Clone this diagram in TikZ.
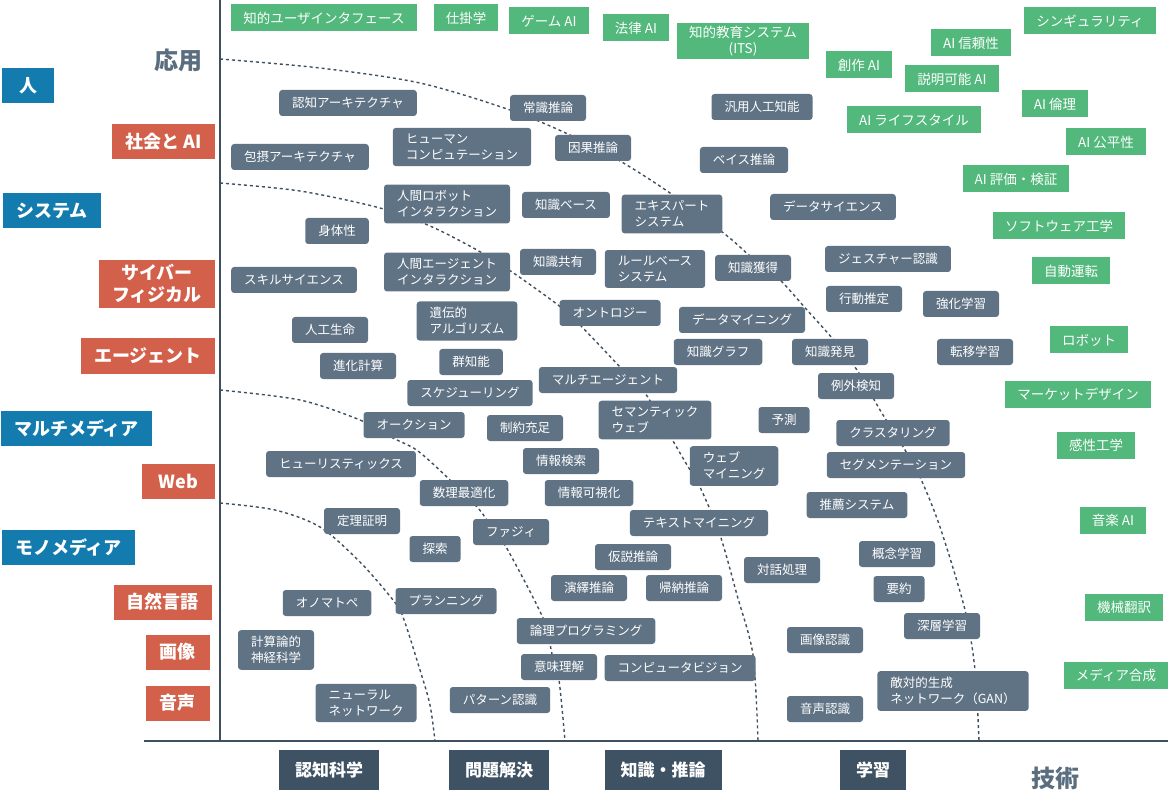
\documentclass[tikz,border=0pt]{standalone}
\usepackage{fontspec}
\setmainfont{Noto Sans CJK JP}
\definecolor{PillClr}{HTML}{607385}
\definecolor{AppClr}{HTML}{52B87C}
\definecolor{MediaClr}{HTML}{147BAE}
\definecolor{FieldClr}{HTML}{D3604A}
\definecolor{AreaClr}{HTML}{3E5263}
\definecolor{AxisClr}{HTML}{3E4F5E}
\definecolor{WordClr}{HTML}{5B6E80}

\begin{document}
\begin{tikzpicture}[x=1pt,y=-1pt,
  pill/.style={fill=PillClr,text=white,rounded corners=3pt,inner xsep=13pt,inner ysep=6pt,
    minimum height=26pt,align=left,font=\fontsize{12.5}{16}\selectfont},
  app/.style={fill=AppClr,text=white,inner xsep=12pt,inner ysep=5pt,minimum height=27pt,
    align=center,font=\fontsize{13.5}{16}\selectfont},
  media/.style={fill=MediaClr,text=white,inner xsep=13pt,inner ysep=4pt,minimum height=35pt,
    align=center,font=\fontsize{18}{22}\selectfont\bfseries},
  field/.style={media,fill=FieldClr},
  area/.style={fill=AreaClr,text=white,inner xsep=16pt,minimum height=40pt,
    font=\fontsize{17}{20}\selectfont\bfseries},
  axword/.style={text=WordClr,font=\fontsize{24}{28}\selectfont\bfseries},
  border/.style={AxisClr,line width=1.4pt,dash pattern=on 3pt off 3pt}]

\useasboundingbox (0,0) rectangle (1172,791);

\draw[border] plot[smooth,tension=0.5] coordinates {(220,59) (320,68) (420,83) (510,110) (570,135)
  (620,161) (670,193) (726,235) (750,256) (780,280) (807,310) (832,338) (857,370) (880,410)
  (905,450) (920,477) (940,527) (965,610) (975,670) (979,741)};
\draw[border] plot[smooth,tension=0.5] coordinates {(220,183) (300,191) (380,208) (430,226)
  (477,250) (512,272) (558,305) (580,325) (620,367) (645,393) (673,441) (687,465) (700,487)
  (720,535) (737,595) (753,655) (758,741)};
\draw[border] plot[smooth,tension=0.5] coordinates {(220,390) (300,400) (360,420) (393,438)
  (418,451) (450,480) (477,507) (487,520) (505,545) (543,618) (552,654) (559,680) (565,741)};
\draw[border] plot[smooth,tension=0.5] coordinates {(220,503) (275,510) (320,527) (360,562)
  (393,600) (403,617) (420,670) (430,705) (435,741)};

\draw[AxisClr,line width=2.5pt] (220,0) -- (220,741);
\draw[AxisClr,line width=2.5pt] (144,741) -- (1168,741);

\node[axword] (ouyou) at (178,60) {応用};
\node[axword] (gijutsu) at (1055,778) {技術};

\node[media,anchor=west,minimum width=52pt] (hito) at (2,86) {人};
\node[field,anchor=east] (shakai) at (215,142) {社会と AI};
\node[media,anchor=west] (system) at (3,211) {システム};
\node[field,anchor=east] (cyber) at (215,284) {サイバー\\フィジカル};
\node[field,anchor=east] (agent) at (215,356) {エージェント};
\node[media,anchor=west] (multi) at (1,428) {マルチメディア};
\node[field,anchor=east,minimum width=73pt] (web) at (215,481) {Web};
\node[media,anchor=west] (mono) at (2,547) {モノメディア};
\node[field,anchor=east] (gengo) at (212,602) {自然言語};
\node[field,anchor=east,minimum width=64pt] (gazou) at (210,652) {画像};
\node[field,anchor=east,minimum width=64pt] (onsei) at (210,703) {音声};

\node[area] (ninchi) at (329,770) {認知科学};
\node[area] (mondai) at (499,770) {問題解決};
\node[area] (chishiki) at (663,770) {知識・推論};
\node[area] (gakushu) at (873,770) {学習};

\node[app] (iui) at (324,18) {知的ユーザインタフェース};
\node[app] (shikake) at (466,18) {仕掛学};
\node[app] (gameai) at (549,21) {ゲーム AI};
\node[app] (houritsu) at (636,28) {法律 AI};
\node[app,inner ysep=3pt] (its) at (743,41) {知的教育システム\\(ITS)};
\node[app] (singular) at (1090,21) {シンギュラリティ};
\node[app] (shinrai) at (971,43) {AI 信頼性};
\node[app] (sousaku) at (859,65) {創作 AI};
\node[app] (setsumei) at (952,79) {説明可能 AI};
\node[app] (rinri) at (1055,104) {AI 倫理};
\node[app] (life) at (914,120) {AI ライフスタイル};
\node[app] (kouhei) at (1106,142) {AI 公平性};
\node[app] (hyouka) at (1016,179) {AI 評価・検証};
\node[app] (soft) at (1059,226) {ソフトウェア工学};
\node[app] (jidou) at (1071,271) {自動運転};
\node[app] (robot) at (1089,340) {ロボット};
\node[app] (market) at (1078,394) {マーケットデザイン};
\node[app] (kansei) at (1096,445) {感性工学};
\node[app] (ongaku) at (1113,520) {音楽 AI};
\node[app] (honyaku) at (1124,607) {機械翻訳};
\node[app] (gousei) at (1116,675) {メディア合成};

\node[pill] (ninarch) at (348,103) {認知アーキテクチャ};
\node[pill] (houarch) at (300,157) {包摂アーキテクチャ};
\node[pill] (shintai) at (337,231) {身体性};
\node[pill] (joushiki) at (548,108) {常識推論};
\node[pill] (human) at (462,147) {ヒューマン\\コンピュテーション};
\node[pill] (inga) at (593,148) {因果推論};
\node[pill] (agi) at (762,107) {汎用人工知能};
\node[pill] (bayes) at (744,160) {ベイス推論};
\node[pill] (hri) at (447,204) {人間ロボット\\インタラクション};
\node[pill] (kbase) at (566,205) {知識ベース};
\node[pill] (expert) at (672,214) {エキスパート\\システム};
\node[pill] (datasci) at (833,207) {データサイエンス};
\node[pill] (gesture) at (888,259) {ジェスチャー認識};
\node[pill] (skill) at (294,280) {スキルサイエンス};
\node[pill] (hai) at (447,272) {人間エージェント\\インタラクション};
\node[pill] (kshare) at (558,262) {知識共有};
\node[pill] (rule) at (655,269) {ルールベース\\システム};
\node[pill] (kacq) at (753,268) {知識獲得};
\node[pill] (koudou) at (864,299) {行動推定};
\node[pill] (kyouka) at (961,304) {強化学習};
\node[pill] (alife) at (330,330) {人工生命};
\node[pill] (ga) at (467,321) {遺伝的\\アルゴリズム};
\node[pill] (onto) at (610,313) {オントロジー};
\node[pill] (dmining) at (742,320) {データマイニング};
\node[pill] (kgraph) at (718,352) {知識グラフ};
\node[pill] (khakken) at (830,352) {知識発見};
\node[pill] (ten_i) at (975,352) {転移学習};
\node[pill] (shinka) at (358,366) {進化計算};
\node[pill] (gun) at (471,362) {群知能};
\node[pill] (multiagent) at (608,380) {マルチエージェント};
\node[pill] (reigai) at (856,386) {例外検知};
\node[pill] (sched) at (470,393) {スケジューリング};
\node[pill] (auction) at (414,425) {オークション};
\node[pill] (seiyaku) at (525,428) {制約充足};
\node[pill] (semantic) at (655,420) {セマンティック\\ウェブ};
\node[pill] (yosoku) at (784,420) {予測};
\node[pill] (cluster) at (893,433) {クラスタリング};
\node[pill] (heur) at (341,464) {ヒューリスティックス};
\node[pill] (kensaku) at (561,461) {情報検索};
\node[pill] (webmining) at (734,466) {ウェブ\\マイニング};
\node[pill] (segment) at (896,465) {セグメンテーション};
\node[pill] (suuri) at (464,493) {数理最適化};
\node[pill] (kashika) at (589,493) {情報可視化};
\node[pill] (suisen) at (857,505) {推薦システム};
\node[pill] (teiri) at (362,521) {定理証明};
\node[pill] (fuzzy) at (511,532) {ファジィ};
\node[pill] (tmining) at (699,523) {テキストマイニング};
\node[pill] (tansaku) at (435,549) {探索};
\node[pill] (kasetsu) at (633,557) {仮説推論};
\node[pill] (taiwa) at (782,570) {対話処理};
\node[pill] (gainen) at (897,554) {概念学習};
\node[pill] (eneki) at (589,588) {演繹推論};
\node[pill] (kinou) at (684,588) {帰納推論};
\node[pill] (youyaku) at (899,589) {要約};
\node[pill] (onomato) at (327,603) {オノマトペ};
\node[pill] (planning) at (446,601) {プランニング};
\node[pill] (ronri) at (586,631) {論理プログラミング};
\node[pill] (shinsou) at (942,626) {深層学習};
\node[pill] (gazouninshiki) at (825,640) {画像認識};
\node[pill] (keisan) at (276,650) {計算論的\\神経科学};
\node[pill] (imi) at (559,667) {意味理解};
\node[pill] (cv) at (680,668) {コンピュータビジョン};
\node[pill] (gan) at (953,691) {敵対的生成\\ネットワーク（GAN）};
\node[pill] (neural) at (366,703) {ニューラル\\ネットワーク};
\node[pill] (pattern) at (500,700) {パターン認識};
\node[pill] (onseininshiki) at (825,709) {音声認識};

\end{tikzpicture}
\end{document}
